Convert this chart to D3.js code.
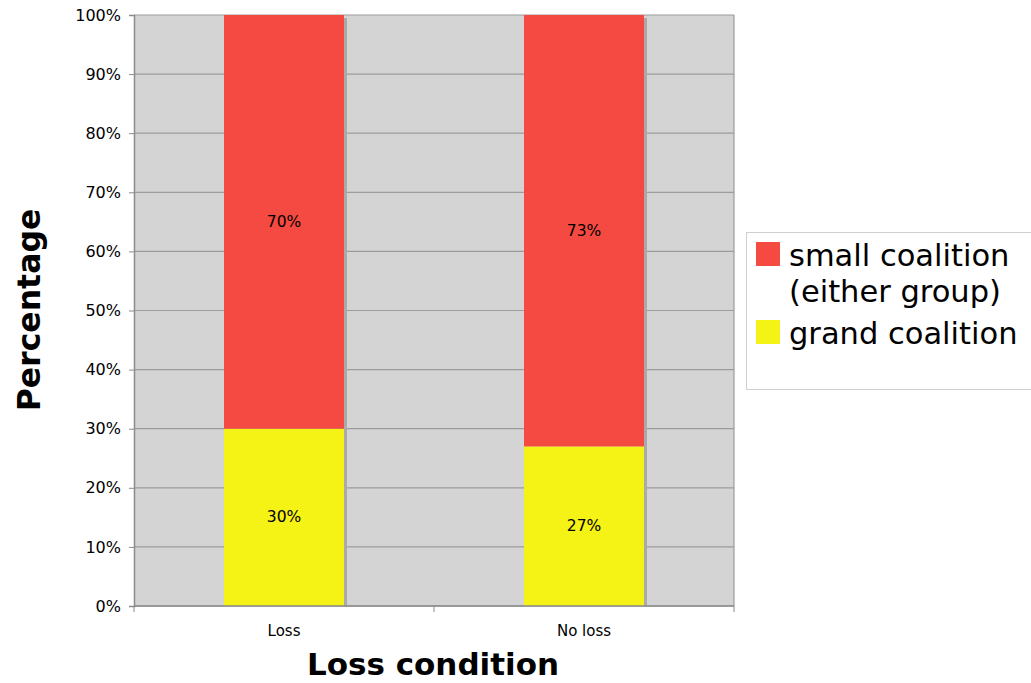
<!DOCTYPE html>
<html><head><meta charset="utf-8">
<script src="https://cdn.jsdelivr.net/npm/d3@7"></script>
<style>body{margin:0;background:#fff;} text{font-family:"DejaVu Sans",Verdana,sans-serif;}</style>
</head><body>
<svg id="c" width="1031" height="683"></svg>
<script>
const categories = ["Loss", "No loss"];
const grandCoalition = [30, 27];
const smallCoalition = [70, 73];
const seriesNames = ["small coalition\n(either group)", "grand coalition"];
const yTicks = [0,10,20,30,40,50,60,70,80,90,100];

const svg = d3.select("#c");
const L=134, R=734, T=15, B=606;
const x = d3.scaleBand().domain(categories).range([L,R]).paddingInner(0.6).paddingOuter(0.3);
const y = d3.scaleLinear().domain([0,100]).range([B,T]);

svg.append("rect").attr("x",L).attr("y",T).attr("width",R-L).attr("height",B-T).attr("fill","#d4d4d4");

// gridlines
svg.append("g").selectAll("line").data(yTicks).join("line")
  .attr("x1",L).attr("x2",R).attr("y1",d=>y(d)).attr("y2",d=>y(d))
  .attr("stroke","#9c9c9c").attr("stroke-width",1.2);
svg.append("line").attr("x1",R).attr("x2",R).attr("y1",T).attr("y2",B).attr("stroke","#9c9c9c").attr("stroke-width",1.2);

const stacks = categories.map((c,i)=>({c, segs:[
  {v0:0, v1:grandCoalition[i], color:"#f5f215", label:grandCoalition[i]+"%"},
  {v0:grandCoalition[i], v1:grandCoalition[i]+smallCoalition[i], color:"#f54a41", label:smallCoalition[i]+"%"}]}));

const g = svg.append("g");
stacks.forEach(s=>{
  g.append("rect").attr("x",x(s.c)+x.bandwidth()).attr("y",y(100)+3).attr("width",3).attr("height",B-y(100)-3).attr("fill","#aaaaaa");
  s.segs.forEach(sg=>{
    g.append("rect").attr("x",x(s.c)).attr("y",y(sg.v1)).attr("width",x.bandwidth()).attr("height",y(sg.v0)-y(sg.v1)).attr("fill",sg.color);
    g.append("text").attr("x",x(s.c)+x.bandwidth()/2).attr("y",y((sg.v0+sg.v1)/2)+5)
      .attr("text-anchor","middle").attr("font-size",15.5).attr("fill","#000").text(sg.label);
  });
});

// axes
const ya = svg.append("g").attr("transform",`translate(${L},0)`)
  .call(d3.axisLeft(y).tickValues(yTicks).tickFormat(d=>d+"%").tickSize(5).tickPadding(8));
ya.select(".domain").attr("stroke","#8a8a8a").attr("stroke-width",1.5);
ya.selectAll(".tick line").attr("stroke","#8a8a8a");
ya.selectAll("text").attr("font-size",16).attr("fill","#000").attr("font-family","DejaVu Sans");

const xa = svg.append("g").attr("transform",`translate(0,${B})`);
xa.append("line").attr("x1",L).attr("x2",R).attr("y1",0).attr("y2",0).attr("stroke","#8a8a8a").attr("stroke-width",1.5);
const bounds=[L,(L+R)/2,R];
xa.selectAll(".tk").data(bounds).join("line").attr("x1",d=>d).attr("x2",d=>d).attr("y1",0).attr("y2",6).attr("stroke","#8a8a8a");
xa.selectAll(".lb").data(categories).join("text").attr("x",d=>x(d)+x.bandwidth()/2).attr("y",30)
  .attr("text-anchor","middle").attr("font-size",15).attr("fill","#000").text(d=>d);

svg.append("text").attr("transform","translate(40,310) rotate(-90)").attr("text-anchor","middle")
  .attr("font-size",31.5).attr("font-weight","bold").text("Percentage");
svg.append("text").attr("x",433).attr("y",675).attr("text-anchor","middle")
  .attr("font-size",31).attr("font-weight","bold").text("Loss condition");

// legend
const lg = svg.append("g");
lg.append("rect").attr("x",746.5).attr("y",232.5).attr("width",300).attr("height",157).attr("fill","#fff").attr("stroke","#d0d0d0");
const legColors=["#f54a41","#f5f215"];
const legY=[242,320];
seriesNames.forEach((n,i)=>{
  lg.append("rect").attr("x",756).attr("y",legY[i]).attr("width",24).attr("height",24).attr("fill",legColors[i]);
  n.split("\n").forEach((line,j)=>{
    lg.append("text").attr("x",789).attr("y",legY[i]+24+j*36).attr("font-size",30.5).attr("fill","#000").text(line);
  });
});
</script>
</body></html>
